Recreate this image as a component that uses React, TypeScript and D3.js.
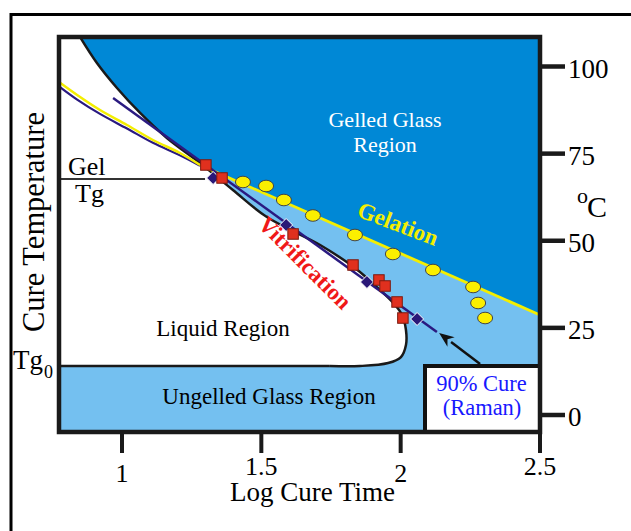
import React from 'react';
import * as d3 from 'd3';

// ---- data (x: log cure time, y: cure temperature °C) ----
const xTicks = [1, 1.5, 2, 2.5];
const xTickLabels = ['1', '1.5', '2', '2.5'];
const yTicks = [0, 25, 50, 75, 100];
const yTickLabels = ['0', '25', '50', '75', '100'];

const vitrificationCurve: [number, number][] = [
  [0.849, 108.5], [0.910, 101.0], [0.982, 93.83], [1.065, 86.66], [1.161, 79.48],
  [1.280, 72.31], [1.398, 64.56], [1.520, 56.81], [1.711, 48.78], [1.836, 42.18],
  [1.926, 35.87], [1.980, 31.56], [2.005, 28.69], [2.019, 24.39], [2.019, 20.09],
  [2.001, 16.64], [1.955, 14.92], [1.854, 14.06], [1.746, 14.06],
];
const gelationCurveLeft: [number, number][] = [
  [0.774, 95.55], [0.839, 91.82], [0.921, 87.52], [1.018, 83.21], [1.111, 78.91],
  [1.208, 75.18], [1.280, 71.74],
];
const gelationLine: [number, number][] = [[1.280, 71.74], [2.5, 28.69]];
const cureCurveLeft: [number, number][] = [
  [0.774, 94.3], [0.839, 90.5], [0.921, 86.4], [1.018, 82.2], [1.111, 78.1],
  [1.208, 74.5], [1.280, 71.5],
];
const cure90Line: [number, number][] = [[0.968, 90.96], [2.130, 23.82]];
const vitrificationData: [number, number][] = [
  [1.301, 71.74], [1.359, 68.01], [1.614, 51.94], [1.829, 43.04], [1.922, 38.74],
  [1.944, 37.02], [1.987, 32.43], [2.008, 27.83],
];
const cure90Data: [number, number][] = [
  [1.327, 68.01], [1.589, 54.52], [1.879, 38.16], [2.059, 27.55],
];
const gelationData: [number, number][] = [
  [1.434, 66.86], [1.517, 65.71], [1.581, 61.69], [1.685, 57.25], [1.836, 51.65],
  [1.972, 46.20], [2.116, 41.61], [2.260, 36.73], [2.278, 32.14], [2.303, 27.83],
];
const gelTg = 67.7;
const gelTgEnd = 1.298;
const tg0 = 14.06;
const arrowTail: [number, number] = [2.285, 14.63];
const arrowTip: [number, number] = [2.138, 23.53];

const SERIF = '"Liberation Serif", "Times New Roman", Times, serif';
const DARK = '#0088d6';
const LIGHT = '#74c0f0';

export default function App() {
  const x = d3.scaleLinear().domain([1, 2.5]).range([122, 540]);
  const y = d3.scaleLinear().domain([0, 100]).range([415, 66.5]);
  const L = 59, R = 540, T = 37, B = 432;
  const xmin = x.invert(L), ymax = y.invert(T);

  const curve = d3.line<[number, number]>().x(d => x(d[0])).y(d => y(d[1])).curve(d3.curveCatmullRom.alpha(0.5));
  const lin = d3.line<[number, number]>().x(d => x(d[0])).y(d => y(d[1]));

  const vitPath = curve(vitrificationCurve) as string;
  const whitePath = `M${L},${T}L${vitPath.slice(1)}L${L},${y(tg0)}Z`;
  const darkPoly: [number, number][] = [
    [xmin, ymax], [xmin, gelationLine[0][1]], gelationLine[0], gelationLine[1], [2.5, ymax],
  ];

  const sq = 10.5;
  const dm = 6.5;

  return (
    <svg width={631} height={531} style={{ position: 'absolute', left: 0, top: 0, background: '#fff' }}
      fontFamily={SERIF}>
      <defs>
        <clipPath id="plot"><rect x={L} y={T} width={R - L} height={B - T} /></clipPath>
      </defs>
      {/* outer frame */}
      <rect x={11} y={14.5} width={700} height={600} fill="none" stroke="#000" strokeWidth={3} />

      <g clipPath="url(#plot)">
        <rect x={L} y={T} width={R - L} height={B - T} fill={LIGHT} />
        <path d={lin(darkPoly) + 'Z'} fill={DARK} />
        <path d={whitePath} fill="#fff" />
        <line x1={L} x2={x(gelTgEnd)} y1={y(gelTg)} y2={y(gelTg)} stroke="#333" strokeWidth={2} />
        <line x1={L} x2={x(vitrificationCurve[vitrificationCurve.length - 1][0])} y1={y(tg0)} y2={y(tg0)} stroke="#1a1a1a" strokeWidth={2.5} />
        <path d={vitPath} fill="none" stroke="#1a1a1a" strokeWidth={2.5} />
        <path d={curve(cureCurveLeft) as string} fill="none" stroke="#2a1a80" strokeWidth={2.2} />
        <path d={curve(gelationCurveLeft) as string} fill="none" stroke="#f4ee00" strokeWidth={2.5} />
        <path d={lin(gelationLine) as string} fill="none" stroke="#f4ee00" strokeWidth={2.8} />
        <path d={lin(cure90Line) as string} fill="none" stroke="#2a1a80" strokeWidth={2.5} />
        {cure90Data.map((d, i) => (
          <path key={'d' + i} d={`M${x(d[0])},${y(d[1]) - dm}L${x(d[0]) + dm},${y(d[1])}L${x(d[0])},${y(d[1]) + dm}L${x(d[0]) - dm},${y(d[1])}Z`}
            fill="#2a1878" stroke="#fff" strokeWidth={1} />
        ))}
        {vitrificationData.map((d, i) => (
          <rect key={'s' + i} x={x(d[0]) - sq / 2} y={y(d[1]) - sq / 2} width={sq} height={sq}
            fill="#e0301e" stroke="#7a1a10" strokeWidth={1} />
        ))}
        {gelationData.map((d, i) => (
          <ellipse key={'c' + i} cx={x(d[0])} cy={y(d[1])} rx={7.5} ry={5.8} fill="#fbef00" stroke="#444" strokeWidth={1} />
        ))}

        {/* region labels */}
        <text x={385} y={127} fill="#fff" fontSize={22} textAnchor="middle">Gelled Glass</text>
        <text x={385} y={152} fill="#fff" fontSize={22} textAnchor="middle">Region</text>
        <text x={223} y={336} fill="#000" fontSize={23} textAnchor="middle">Liquid Region</text>
        <text x={269} y={404} fill="#000" fontSize={23} textAnchor="middle">Ungelled Glass Region</text>
        <text transform="translate(398,224) rotate(21)" fill="#f4ee00" fontSize={23} fontWeight="bold" textAnchor="middle" dominantBaseline="central">Gelation</text>
        <text transform="translate(305,263) rotate(45)" fill="#f01818" fontSize={23} fontWeight="bold" textAnchor="middle" dominantBaseline="central">Vitrification</text>
        <text x={68} y={175} fontSize={26}>Gel</text>
        <text x={75} y={202} fontSize={26}>Tg</text>

        {/* legend box */}
        <rect x={425} y={366} width={120} height={70} fill="#fff" stroke="#111" strokeWidth={4} />
        <text x={481.5} y={391} fill="#1818ff" fontSize={22.5} textAnchor="middle">90% Cure</text>
        <text x={482} y={415} fill="#1818ff" fontSize={22.5} textAnchor="middle">(Raman)</text>
      </g>

      {/* arrow */}
      {(() => {
        const x1 = x(arrowTail[0]), y1 = y(arrowTail[1]), x2 = x(arrowTip[0]), y2 = y(arrowTip[1]);
        const ang = Math.atan2(y2 - y1, x2 - x1);
        const len = 15, w = 6;
        const bx = x2 - len * Math.cos(ang), by = y2 - len * Math.sin(ang);
        const px = -Math.sin(ang) * w, py = Math.cos(ang) * w;
        return (
          <g>
            <line x1={x1} y1={y1} x2={bx} y2={by} stroke="#111" strokeWidth={2.5} />
            <path d={`M${x2},${y2}L${bx + px},${by + py}L${bx + 0.3 * len * Math.cos(ang)},${by + 0.3 * len * Math.sin(ang)}L${bx - px},${by - py}Z`} fill="#111" />
          </g>
        );
      })()}

      {/* plot border */}
      <rect x={L} y={T} width={R - L} height={B - T} fill="none" stroke="#1a1a1a" strokeWidth={4.5} />

      {/* x axis ticks */}
      {xTicks.map((t, i) => (
        <g key={'xt' + i}>
          <line x1={x(t)} x2={x(t)} y1={B} y2={453} stroke="#1a1a1a" strokeWidth={4} />
          <text x={x(t)} y={i % 2 === 0 ? 482 : 475} fontSize={26} textAnchor="middle">{xTickLabels[i]}</text>
        </g>
      ))}
      {/* y axis ticks (right) */}
      {yTicks.map((t, i) => (
        <g key={'yt' + i}>
          <line x1={R} x2={565} y1={y(t)} y2={y(t)} stroke="#1a1a1a" strokeWidth={4.5} />
          <text x={568} y={y(t) + 11} fontSize={27}>{yTickLabels[i]}</text>
        </g>
      ))}

      <text x={577} y={203} fontSize={22}>o</text>
      <text x={587} y={217} fontSize={30}>C</text>
      <text x={312.5} y={501} fontSize={27} textAnchor="middle">Log Cure Time</text>
      <text transform="translate(44,222) rotate(-90)" fontSize={30.5} textAnchor="middle">Cure Temperature</text>
      <text x={13} y={369} fontSize={27}>Tg</text>
      <text x={44} y={378} fontSize={18}>0</text>
    </svg>
  );
}
